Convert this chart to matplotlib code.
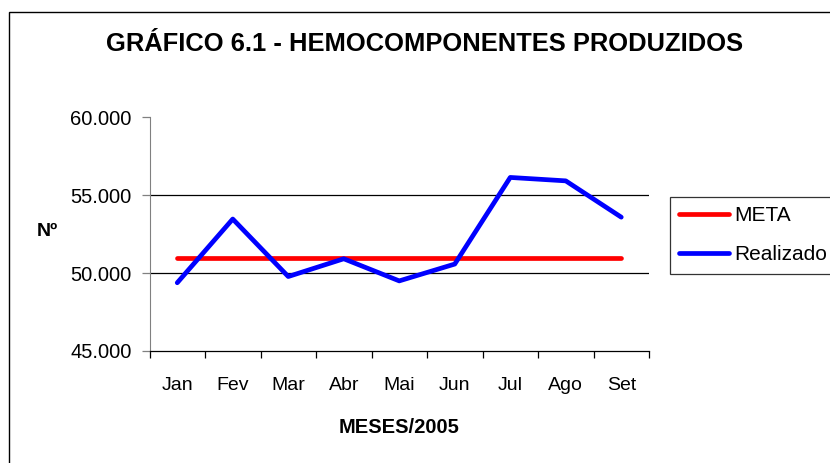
import matplotlib.pyplot as plt
from matplotlib.patches import Rectangle
from matplotlib.ticker import FixedLocator, FuncFormatter

plt.rcParams['font.family'] = ['Liberation Sans', 'DejaVu Sans']

# Monthly data
months = ["Jan", "Fev", "Mar", "Abr", "Mai", "Jun", "Jul", "Ago", "Set"]
meta = [51000, 51000, 51000, 51000, 51000, 51000, 51000, 51000, 51000]
realizado = [49380, 53470, 49780, 50920, 49500, 50580, 56140, 55920, 53590]
y_ticks = [45000, 50000, 55000, 60000]

fig = plt.figure(figsize=(8.3, 4.63), dpi=100)
fig.patches.append(Rectangle((9 / 830, -0.05), 1.2, 1 - 12 / 463 + 0.05,
                             transform=fig.transFigure, fill=False,
                             edgecolor='black', linewidth=1.0))

ax = fig.add_axes([149.5 / 830, 1 - 351 / 463, (649 - 149.5) / 830, (351 - 117.3) / 463])
x = list(range(len(months)))
ax.plot(x, meta, color='#ff0000', linewidth=3.4, solid_capstyle='round', label='META', zorder=3)
ax.plot(x, realizado, color='#0000ff', linewidth=3.4, solid_capstyle='round',
        solid_joinstyle='round', label='Realizado', zorder=4)

ax.set_xlim(-0.5, len(months) - 0.5)
ax.set_ylim(45000, 60000)

# gridlines at inner major ticks only
for v in y_ticks[1:-1]:
    ax.axhline(v, color='black', linewidth=0.9, zorder=1)

ax.yaxis.set_major_locator(FixedLocator(y_ticks))
ax.yaxis.set_major_formatter(FuncFormatter(lambda v, p: f"{int(v):,}".replace(",", ".")))
ax.set_xticks(x)
ax.set_xticklabels(months)
ax.xaxis.set_minor_locator(FixedLocator([i - 0.5 for i in range(len(months) + 1)]))
ax.tick_params(axis='x', which='major', length=0, pad=19, labelsize=14)
ax.tick_params(axis='x', which='minor', length=5, width=0.9, direction='out')
ax.tick_params(axis='y', length=6, width=0.9, direction='out', labelsize=14.5, pad=7, color='#808080')

for side in ('top', 'right'):
    ax.spines[side].set_visible(False)
ax.spines['left'].set_color('#808080')
ax.spines['bottom'].set_linewidth(0.9)

ax.set_xlabel("MESES/2005", fontsize=14.5, fontweight='bold', labelpad=17)
fig.text(47 / 830, 1 - 232 / 463, "Nº", fontsize=14, fontweight='bold', ha='center', va='center')
fig.text(425 / 830, 1 - 44 / 463, "GRÁFICO 6.1 - HEMOCOMPONENTES PRODUZIDOS",
         fontsize=18.4, fontweight='bold', ha='center', va='center')

leg = fig.legend(loc='upper left', bbox_to_anchor=(670 / 830, 1 - 197 / 463),
                 frameon=True, fancybox=False, fontsize=15, handlelength=2.4,
                 handletextpad=0.25, borderpad=0.45, labelspacing=0.95, borderaxespad=0)
leg.get_frame().set_edgecolor('black')
leg.get_frame().set_linewidth(0.9)

fig.savefig("out.png", dpi=100)
